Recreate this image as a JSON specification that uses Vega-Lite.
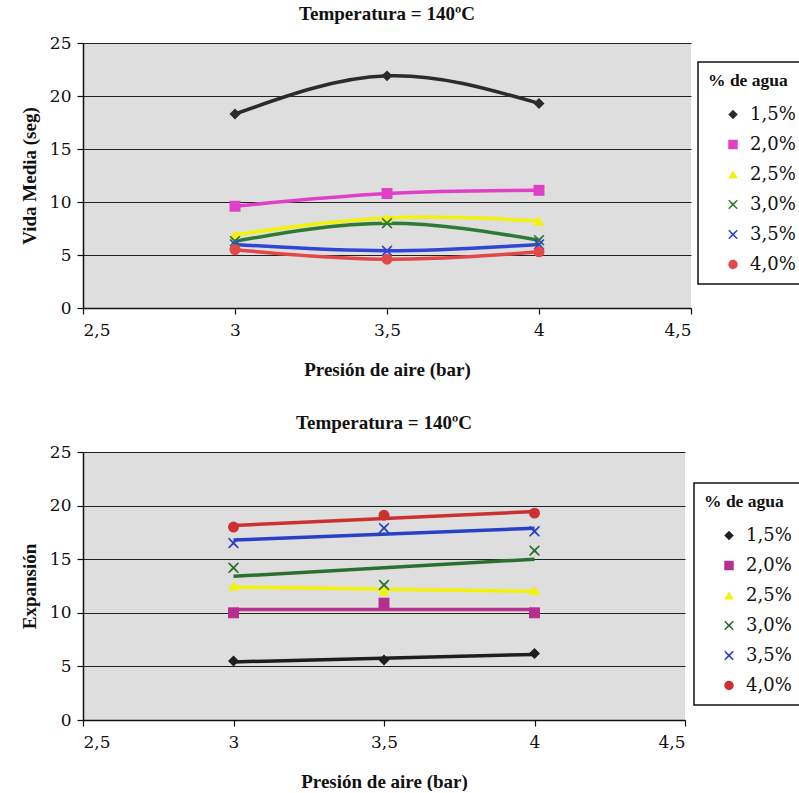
{
  "$schema": "https://vega.github.io/schema/vega-lite/v6.json",
  "padding": {"top": 5, "left": 20, "right": 0, "bottom": 0},
  "background": "white",
  "config": {
    "font": "Liberation Serif",
    "view": {"stroke": null, "fill": "#dedede"},
    "title": {"font": "Liberation Serif", "fontSize": 19, "fontWeight": "bold", "color": "#111", "offset": 10},
    "axis": {
      "labelFont": "DejaVu Serif", "labelFontSize": 17, "labelColor": "#111",
      "titleFont": "Liberation Serif", "titleFontSize": 19, "titleFontWeight": "bold", "titleColor": "#111",
      "domainColor": "#111", "domainWidth": 1.5, "tickColor": "#111", "tickSize": 6, "tickWidth": 1.2
    },
    "legend": {
      "orient": "none",
      "titleFont": "Liberation Serif", "titleFontSize": 17.5, "titleFontWeight": "bold", "titleColor": "#111",
      "labelFont": "DejaVu Serif", "labelFontSize": 18, "labelColor": "#111",
      "strokeColor": "#111", "strokeWidth": 1.5, "fillColor": "white", "padding": 10,
      "symbolSize": 90, "symbolStrokeWidth": 0, "rowPadding": 12, "labelOffset": 8, "symbolOffset": 16, "titlePadding": 16
    }
  },
  "datasets": {
    "vida": [
      {"presion": 3, "agua": "1,5%", "valor": 18.3},
      {"presion": 3.5, "agua": "1,5%", "valor": 21.9},
      {"presion": 4, "agua": "1,5%", "valor": 19.3},
      {"presion": 3, "agua": "2,0%", "valor": 9.6},
      {"presion": 3.5, "agua": "2,0%", "valor": 10.8},
      {"presion": 4, "agua": "2,0%", "valor": 11.1},
      {"presion": 3, "agua": "2,5%", "valor": 6.9},
      {"presion": 3.5, "agua": "2,5%", "valor": 8.5},
      {"presion": 4, "agua": "2,5%", "valor": 8.2},
      {"presion": 3, "agua": "3,0%", "valor": 6.3},
      {"presion": 3.5, "agua": "3,0%", "valor": 8.0},
      {"presion": 4, "agua": "3,0%", "valor": 6.4},
      {"presion": 3, "agua": "3,5%", "valor": 6.0},
      {"presion": 3.5, "agua": "3,5%", "valor": 5.4},
      {"presion": 4, "agua": "3,5%", "valor": 6.0},
      {"presion": 3, "agua": "4,0%", "valor": 5.5},
      {"presion": 3.5, "agua": "4,0%", "valor": 4.6},
      {"presion": 4, "agua": "4,0%", "valor": 5.3}
    ],
    "expansion": [
      {"presion": 3, "agua": "1,5%", "valor": 5.5},
      {"presion": 3.5, "agua": "1,5%", "valor": 5.6},
      {"presion": 4, "agua": "1,5%", "valor": 6.2},
      {"presion": 3, "agua": "2,0%", "valor": 10.0},
      {"presion": 3.5, "agua": "2,0%", "valor": 10.9},
      {"presion": 4, "agua": "2,0%", "valor": 10.0},
      {"presion": 3, "agua": "2,5%", "valor": 12.5},
      {"presion": 3.5, "agua": "2,5%", "valor": 12.0},
      {"presion": 4, "agua": "2,5%", "valor": 12.1},
      {"presion": 3, "agua": "3,0%", "valor": 14.2},
      {"presion": 3.5, "agua": "3,0%", "valor": 12.6},
      {"presion": 4, "agua": "3,0%", "valor": 15.8},
      {"presion": 3, "agua": "3,5%", "valor": 16.5},
      {"presion": 3.5, "agua": "3,5%", "valor": 17.9},
      {"presion": 4, "agua": "3,5%", "valor": 17.6},
      {"presion": 3, "agua": "4,0%", "valor": 18.0},
      {"presion": 3.5, "agua": "4,0%", "valor": 19.1},
      {"presion": 4, "agua": "4,0%", "valor": 19.3}
    ]
  },
  "vconcat": [
    {
      "title": "Temperatura = 140ºC",
      "width": 608,
      "height": 265,
      "data": {"name": "vida"},
      "encoding": {
        "x": {"field": "presion", "type": "quantitative", "title": "Presión de aire (bar)",
          "scale": {"domain": [2.5, 4.5], "nice": false},
          "axis": {"values": [2.5, 3, 3.5, 4, 4.5], "grid": false, "labelExpr": "replace(format(datum.value, '~g'), '.', ',')", "labelPadding": 8, "titlePadding": 22}},
        "y": {"field": "valor", "type": "quantitative", "title": "Vida Media (seg)",
          "scale": {"domain": [0, 25], "nice": false},
          "axis": {"values": [0, 5, 10, 15, 20, 25], "grid": true, "gridColor": "#222", "gridWidth": 1.2, "labelPadding": 6, "titlePadding": 10}},
        "color": {"field": "agua", "type": "nominal", "title": "% de agua",
          "scale": {"domain": ["1,5%", "2,0%", "2,5%", "3,0%", "3,5%", "4,0%"], "range": ["#2b2b2b", "#e040c8", "#f2f20a", "#2e7a35", "#2f45d6", "#e24848"]},
          "legend": {"legendX": 615, "legendY": 19}}
      },
      "layer": [
        {"mark": {"type": "line", "interpolate": "natural", "strokeWidth": 3.5}},
        {"mark": {"type": "point", "filled": true, "opacity": 1},
          "encoding": {
            "shape": {"field": "agua", "type": "nominal", "title": "% de agua",
              "scale": {"domain": ["1,5%", "2,0%", "2,5%", "3,0%", "3,5%", "4,0%"], "range": ["diamond", "square", "triangle-up", "M-0.8,-1L0,-0.25L0.8,-1L1,-0.8L0.25,0L1,0.8L0.8,1L0,0.25L-0.8,1L-1,0.8L-0.25,0L-1,-0.8Z", "M-0.8,-1L0,-0.25L0.8,-1L1,-0.8L0.25,0L1,0.8L0.8,1L0,0.25L-0.8,1L-1,0.8L-0.25,0L-1,-0.8Z", "circle"]}},
            "size": {"value": 120}
          }}
      ]
    },
    {
      "title": "Temperatura = 140ºC",
      "width": 602,
      "height": 268,
      "data": {"name": "expansion"},
      "encoding": {
        "x": {"field": "presion", "type": "quantitative", "title": "Presión de aire (bar)",
          "scale": {"domain": [2.5, 4.5], "nice": false},
          "axis": {"values": [2.5, 3, 3.5, 4, 4.5], "grid": false, "labelExpr": "replace(format(datum.value, '~g'), '.', ',')", "labelPadding": 8, "titlePadding": 22}},
        "y": {"field": "valor", "type": "quantitative", "title": "Expansión",
          "scale": {"domain": [0, 25], "nice": false},
          "axis": {"values": [0, 5, 10, 15, 20, 25], "grid": true, "gridColor": "#222", "gridWidth": 1.2, "labelPadding": 6, "titlePadding": 10}},
        "color": {"field": "agua", "type": "nominal", "title": "% de agua",
          "scale": {"domain": ["1,5%", "2,0%", "2,5%", "3,0%", "3,5%", "4,0%"], "range": ["#1e1e1e", "#b8308f", "#f2f20a", "#2a7030", "#2840c8", "#cc3030"]},
          "legend": {"legendX": 611, "legendY": 31}}
      },
      "layer": [
        {"transform": [{"regression": "valor", "on": "presion", "groupby": ["agua"]}],
          "mark": {"type": "line", "strokeWidth": 3.5}},
        {"mark": {"type": "point", "filled": true, "opacity": 1},
          "encoding": {
            "shape": {"field": "agua", "type": "nominal", "title": "% de agua",
              "scale": {"domain": ["1,5%", "2,0%", "2,5%", "3,0%", "3,5%", "4,0%"], "range": ["diamond", "square", "triangle-up", "M-0.8,-1L0,-0.25L0.8,-1L1,-0.8L0.25,0L1,0.8L0.8,1L0,0.25L-0.8,1L-1,0.8L-0.25,0L-1,-0.8Z", "M-0.8,-1L0,-0.25L0.8,-1L1,-0.8L0.25,0L1,0.8L0.8,1L0,0.25L-0.8,1L-1,0.8L-0.25,0L-1,-0.8Z", "circle"]}},
            "size": {"value": 120}
          }}
      ]
    }
  ],
  "spacing": 35,
  "resolve": {"scale": {"color": "independent", "shape": "independent"}, "legend": {"color": "independent", "shape": "independent"}}
}
